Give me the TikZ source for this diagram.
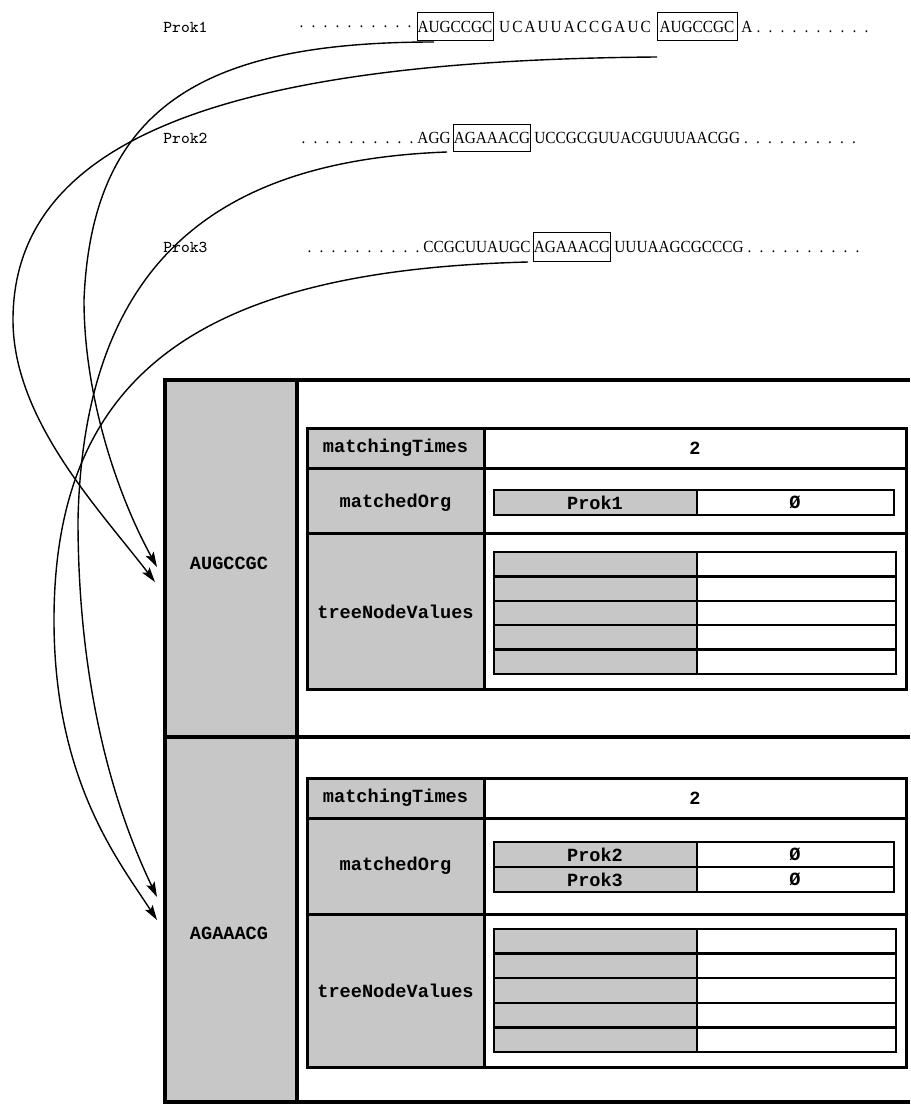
\documentclass[tikz,border=0pt]{standalone}
\usepackage{fontspec}
\setmainfont{Liberation Serif}
\newfontfamily\seqf[FakeStretch=0.9]{Liberation Serif}
\newfontfamily\seqwide[FakeStretch=0.9,LetterSpace=12]{Liberation Serif}
\newfontfamily\tabmono{Liberation Mono}
\usetikzlibrary{arrows.meta}
\newcommand\seqfont{\seqf\fontsize{8.5}{9}\selectfont}
\newcommand\labfont{\ttfamily\fontsize{8.3}{9}\selectfont}
\newcommand\tabfont{\tabmono\bfseries\fontsize{9.3}{10}\selectfont}
\newcommand\dotsn[1]{\foreach \i in {1,...,#1}{\makebox[6pt][c]{.}}}
\colorlet{shd}{black!22}
\begin{document}
\begin{tikzpicture}[x=0.5pt,y=-0.5pt,
  seq/.style={font=\seqfont,inner sep=0pt,anchor=west},
  lab/.style={font=\labfont,inner sep=0pt,anchor=west},
  seqbox/.style={draw,line width=0.5pt,inner sep=0pt,font=\seqfont,minimum width=38pt,minimum height=14pt},
  tt/.style={font=\tabfont,inner sep=0pt},
  shadecell/.style={fill=shd,draw=none,inner sep=0pt,anchor=north west},
  thick1/.style={line width=2pt},
  thick2/.style={line width=1.5pt},
  thick3/.style={line width=1.2pt},
  arr/.style={line width=0.7pt,-{Stealth[length=7.5pt,width=4.5pt,inset=1.5pt]}}]
\useasboundingbox (0,0) rectangle (910,1107);

% ---------- sequences ----------
\node[lab] (p1) at (163,27) {Prok1};
\node[lab] (p2) at (163,138) {Prok2};
\node[lab] (p3) at (163,247) {Prok3};

\node[seq,anchor=east] (r1a) at (416,27) {\dotsn{10}};
\node[seqbox] (box1) at (455,27) {AUGCCGC};
\node[seq,anchor=center] (r1b) at (575,27) {\seqwide\fontsize{8.5}{9}\selectfont UCAUUACCGAUC};
\node[seqbox,minimum width=40pt] (box2) at (697,27) {AUGCCGC};
\node[seq] (r1c) at (741,27) {A\dotsn{10}};

\node[seq,anchor=east] (r2a) at (451,138) {\dotsn{10}AGG};
\node[seqbox,minimum height=13.5pt] (box3) at (492,138) {AGAAACG};
\node[seq] (r2b) at (534,138) {UCCGCGUUACGUUUAACGG\dotsn{10}};

\node[seq,anchor=east] (r3a) at (531,247) {\dotsn{10}CCGCUUAUGC};
\node[seqbox] (box4) at (572,247) {AGAAACG};
\node[seq] (r3b) at (614,247) {UUUAAGCGCCCG\dotsn{10}};

% ---------- structure ----------
\node[shadecell,minimum width=66pt,minimum height=178.5pt] (cellA) at (165,380) {};
\node[shadecell,minimum width=66pt,minimum height=182.5pt] (cellB) at (165,737) {};
\node[tt] (lA) at (229,563) {AUGCCGC};
\node[tt] (lB) at (229,933) {AGAAACG};
\draw[thick1] (910,380) -- (165,380) -- (165,1102) -- (910,1102);
\draw[thick1] (297,380) -- (297,1102);
\draw[thick1] (165,737) -- (910,737);

% ---- top table ----
\fill[shd] (307,428) rectangle (484,689);
\draw[thick2] (307,428) rectangle (906,689);
\draw[thick2] (484,428) -- (484,689);
\draw[thick2] (307,468) -- (906,468);
\draw[thick2] (307,533) -- (906,533);
\node[tt] (mt1) at (395.5,448) {matchingTimes};
\node[tt] (mv1) at (695,448) {2};
\node[tt] (mo1) at (395.5,503) {matchedOrg};
\node[tt] (tv1) at (395.5,612) {treeNodeValues};
\fill[shd] (494,490) rectangle (697,515);
\draw[thick3] (494,490) rectangle (894,515);
\draw[thick3] (697,490) -- (697,515);
\node[tt] (o11) at (595,502.5) {Prok1};
\node[tt] (o12) at (795,502.5) {Ø};
\fill[shd] (494,552) rectangle (697,674);
\draw[thick3] (494,552) rectangle (896,674);
\draw[thick3] (697,552) -- (697,674);
\foreach \k in {1,...,4} {\draw[thick3] (494,552+24.4*\k) -- (896,552+24.4*\k);}

% ---- bottom table ----
\fill[shd] (307,778) rectangle (484,1067);
\draw[thick2] (307,778) rectangle (906,1067);
\draw[thick2] (484,778) -- (484,1067);
\draw[thick2] (307,818) -- (906,818);
\draw[thick2] (307,914) -- (906,914);
\node[tt] (mt2) at (395.5,798) {matchingTimes};
\node[tt] (mv2) at (695,798) {2};
\node[tt] (mo2) at (395.5,866) {matchedOrg};
\node[tt] (tv2) at (395.5,991) {treeNodeValues};
\fill[shd] (494,842) rectangle (697,892);
\draw[thick3] (494,842) rectangle (894,892);
\draw[thick3] (697,842) -- (697,892);
\draw[thick3] (494,867) -- (894,867);
\node[tt] (o21) at (595,854.5) {Prok2};
\node[tt] (o22) at (795,854.5) {Ø};
\node[tt] (o31) at (595,879.5) {Prok3};
\node[tt] (o32) at (795,879.5) {Ø};
\fill[shd] (494,929) rectangle (697,1052);
\draw[thick3] (494,929) rectangle (896,1052);
\draw[thick3] (697,929) -- (697,1052);
\foreach \k in {1,...,4} {\draw[thick3] (494,929+24.6*\k) -- (896,929+24.6*\k);}

% ---------- connectors ----------
\coordinate (s1) at (434,42);
\coordinate (s2) at (657,57);
\coordinate (s3) at (447,152);
\coordinate (s4) at (528,262);
\coordinate (mA) at (84,300);
\coordinate (mB) at (13,320);
\coordinate (mC) at (78,520);
\coordinate (mD) at (54,620);
\coordinate (tA) at (157,567);
\coordinate (tB) at (155,582);
\coordinate (tC) at (157,897);
\coordinate (tD) at (157,920);
\draw[arr] (s1) .. controls (210,42) and (92,102) .. (mA) .. controls (84,400) and (120,500) .. (tA);
\draw[arr] (s2) .. controls (250,60) and (13,130) .. (mB) .. controls (13,420) and (100,510) .. (tB);
\draw[arr] (s3) .. controls (230,160) and (84,250) .. (mC) .. controls (78,700) and (120,820) .. (tC);
\draw[arr] (s4) .. controls (220,270) and (54,360) .. (mD) .. controls (54,780) and (118,860) .. (tD);
\end{tikzpicture}
\end{document}
